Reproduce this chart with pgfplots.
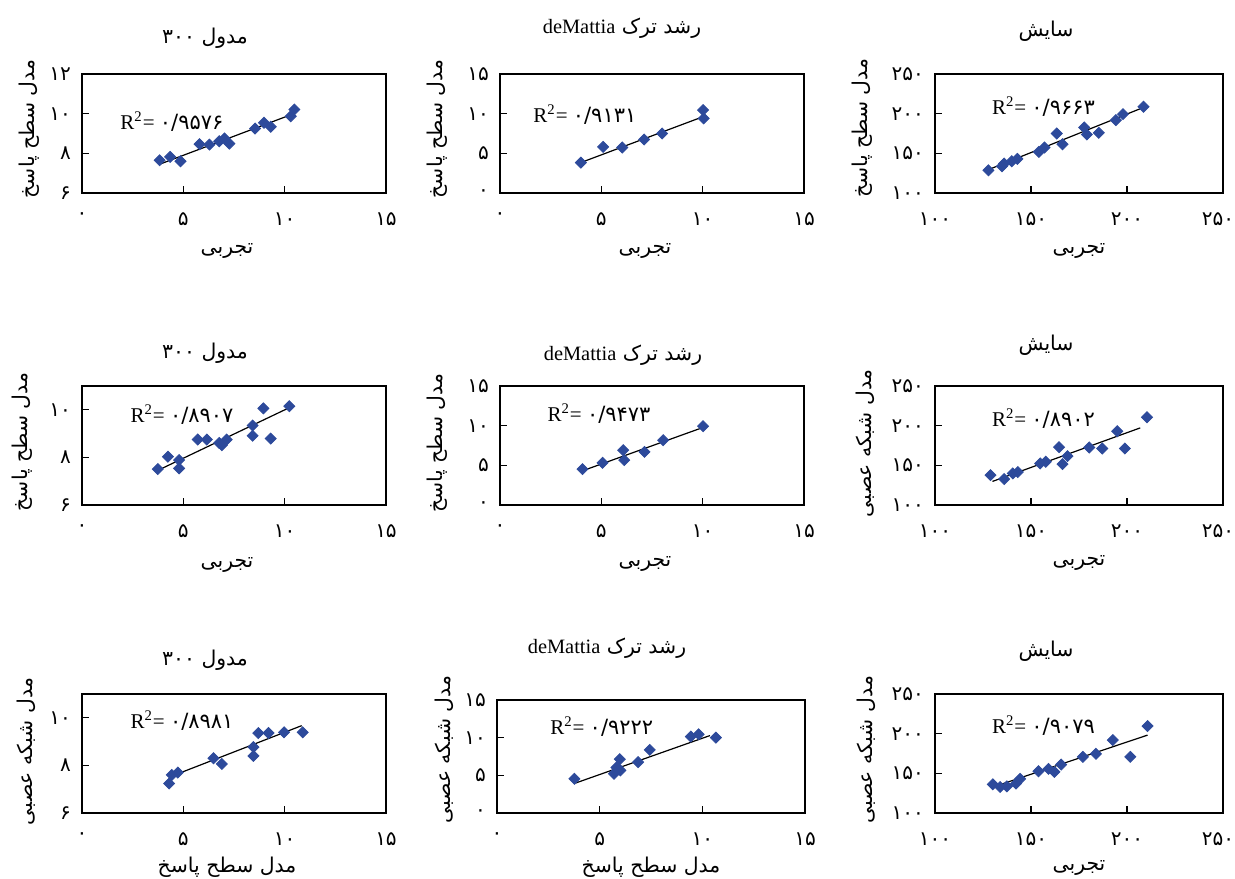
\documentclass[border=0pt]{standalone}
\usepackage{fontspec}
\usepackage{pgfplots}
\pgfplotsset{compat=1.18}
\setmainfont{Liberation Serif}
\newfontfamily\arabicfont[Script=Arabic]{DejaVu Sans}
\TeXXeTstate=1
\definecolor{myblue}{RGB}{45,74,155}
\newcommand\tickfont{\arabicfont\fontsize{10}{11}\selectfont}
\newcommand\labfont{\arabicfont\fontsize{10.2}{12}\selectfont}
\newcommand\rtwo[1]{\fontsize{10.5}{12}\selectfont R\textsuperscript{2}= {\arabicfont\fontsize{10.5}{12}\selectfont #1}}
\pgfplotsset{
  panel/.style={
    scale only axis, anchor=south west,
    axis line style={line width=1.3pt},
    tick pos=left, tick align=inside, major tick length=3.5pt,
    every tick/.style={black, line width=0.6pt},
    ticklabel style={font=\tickfont},
    xticklabel style={yshift=-6.5pt},
    yticklabel style={xshift=-2pt},
    title style={font=\labfont, at={(0.5,1)}, anchor=center},
    xlabel style={font=\labfont, at={(0.5,0)}, anchor=center, yshift=-29pt},
    ylabel style={font=\labfont, anchor=center},
    clip=false,
  },
  small/.style={panel, width=152pt, height=59.5pt, xmin=0, xmax=15,
    xtick={0,5,10,15}, xticklabels={۰,۵,۱۰,۱۵}},
  big/.style={panel, width=144pt, height=59.5pt, xmin=100, xmax=250, ymin=100, ymax=250,
    xtick={100,150,200,250}, xticklabels={۱۰۰,۱۵۰,۲۰۰,\kern-5pt۲۵۰},
    ytick={100,150,200,250}, yticklabels={۱۰۰,۱۵۰,۲۰۰,۲۵۰}},
  yfifteen/.style={ymin=0, ymax=15, ytick={0,5,10,15}, yticklabels={۰,۵,۱۰,۱۵}},
  mk/.style={only marks, mark=square*, mark size=1.95pt, mark options={rotate=45, fill=myblue, draw=myblue}, color=myblue},
  tr/.style={black, line width=0.6pt, no marks},
}
\begin{document}
\begin{tikzpicture}
\path[use as bounding box] (0,0) rectangle (617.5pt,439pt);
% ---------- Row 1 ----------
\begin{axis}[small, at={(41pt,342.5pt)}, ymin=6, ymax=12, ytick={6,8,10,12}, yticklabels={۶,۸,۱۰,۱۲},
  title={\beginR مدول ۳۰۰\endR}, title style={yshift=12pt, xshift=-14.5pt},
  xlabel={تجربی}, xlabel style={xshift=-3.5pt},
  ylabel={\beginR مدل سطح پاسخ\endR}, ylabel style={at={(-0.174,0.538)}}]
\addplot[mk] coordinates {(3.83,7.65) (4.35,7.82) (4.86,7.60) (5.80,8.46) (6.29,8.44) (6.77,8.61) (7.03,8.75) (7.27,8.49) (8.54,9.25) (8.98,9.54) (9.31,9.34) (10.30,9.87) (10.48,10.21)};
\addplot[tr] coordinates {(3.83,7.45) (10.48,10.01)};
\node[anchor=west] at (axis cs:1.55,9.58) {\rtwo{۰/۹۵۷۶}};
\end{axis}
\begin{axis}[small, yfifteen, at={(250pt,342.5pt)},
  title={\beginR رشد ترک {\rmfamily deMattia}\endR}, title style={yshift=17pt, xshift=-15pt},
  xlabel={تجربی}, xlabel style={xshift=-3.5pt},
  ylabel={\beginR مدل سطح پاسخ\endR}, ylabel style={at={(-0.207,0.538)}}]
\addplot[mk] coordinates {(3.99,3.83) (5.09,5.81) (6.03,5.73) (7.11,6.74) (8.0,7.50) (10.02,10.45) (10.05,9.40)};
\addplot[tr] coordinates {(3.95,3.8) (10.0,9.6)};
\node[anchor=west] at (axis cs:1.30,9.83) {\rtwo{۰/۹۱۳۱}};
\end{axis}
\begin{axis}[big, at={(467.5pt,342.5pt)},
  title={سایش}, title style={yshift=15.5pt, xshift=-16.5pt},
  xlabel={تجربی},
  ylabel={\beginR مدل سطح پاسخ\endR}, ylabel style={at={(-0.253,0.546)}}]
\addplot[mk] coordinates {(127.8,128.6) (134.9,133.7) (136.0,137.1) (140.0,140.0) (142.9,143.0) (154.1,151.8) (157.0,157.3) (163.4,175.0) (166.4,161.5) (177.7,182.6) (179.1,173.7) (185.3,175.8) (194.2,191.8) (197.9,199.4) (208.6,208.7)};
\addplot[tr] coordinates {(127,128.6) (208.6,207.9)};
\node[anchor=west] at (axis cs:126,208.4) {\rtwo{۰/۹۶۶۳}};
\end{axis}
% ---------- Row 2 ----------
\begin{axis}[small, at={(41pt,186.5pt)}, ymin=6, ymax=11, ytick={6,8,10}, yticklabels={۶,۸,۱۰},
  title={\beginR مدول ۳۰۰\endR}, title style={yshift=10.5pt, xshift=-14.5pt},
  xlabel={تجربی}, xlabel style={xshift=-3.5pt, yshift=-1pt},
  ylabel={\beginR مدل سطح پاسخ\endR}, ylabel style={at={(-0.197,0.53)}}]
\addplot[mk] coordinates {(3.74,7.51) (4.24,8.03) (4.79,7.89) (4.79,7.54) (5.71,8.75) (6.16,8.75) (6.77,8.61) (6.90,8.51) (7.14,8.75) (8.42,9.34) (8.42,8.91) (8.95,10.06) (9.31,8.79) (10.23,10.15)};
\addplot[tr] coordinates {(3.78,7.47) (10.23,10.09)};
\node[anchor=west] at (axis cs:2.05,9.78) {\rtwo{۰/۸۹۰۷}};
\end{axis}
\begin{axis}[small, yfifteen, at={(250pt,186.5pt)},
  title={\beginR رشد ترک {\rmfamily deMattia}\endR}, title style={yshift=9.5pt, xshift=-14.5pt},
  xlabel={تجربی}, xlabel style={xshift=-3.5pt, yshift=-0.5pt},
  ylabel={\beginR مدل سطح پاسخ\endR}, ylabel style={at={(-0.207,0.52)}}]
\addplot[mk] coordinates {(4.07,4.52) (5.06,5.32) (6.08,6.91) (6.13,5.66) (7.13,6.70) (8.05,8.17) (10.02,9.93)};
\addplot[tr] coordinates {(4.07,4.31) (10.0,9.76)};
\node[anchor=west] at (axis cs:2.0,11.47) {\rtwo{۰/۹۴۷۳}};
\end{axis}
\begin{axis}[big, at={(467.5pt,186.5pt)},
  title={سایش}, title style={yshift=14.5pt, xshift=-16.5pt},
  xlabel={تجربی},
  ylabel={\beginR مدل شبکه عصبی\endR}, ylabel style={at={(-0.243,0.52)}}]
\addplot[mk] coordinates {(128.9,137.7) (136.0,132.7) (140.5,139.8) (143.1,141.5) (154.8,152.4) (157.7,154.5) (164.6,172.9) (166.4,151.5) (169.0,161.6) (180.3,172.5) (187.1,171.2) (194.9,193.0) (198.9,171.2) (210.4,210.6)};
\addplot[tr] coordinates {(129.9,129.7) (206.9,197.2)};
\node[anchor=west] at (axis cs:126,208.4) {\rtwo{۰/۸۹۰۲}};
\end{axis}
% ---------- Row 3 ----------
\begin{axis}[small, at={(41pt,32.5pt)}, ymin=6, ymax=11, ytick={6,8,10}, yticklabels={۶,۸,۱۰},
  title={\beginR مدول ۳۰۰\endR}, title style={yshift=11pt, xshift=-14.5pt},
  xlabel={\beginR مدل سطح پاسخ\endR}, xlabel style={xshift=-3.5pt, yshift=2pt},
  ylabel={\beginR مدل شبکه عصبی\endR}, ylabel style={at={(-0.184,0.52)}}]
\addplot[mk] coordinates {(4.30,7.24) (4.43,7.60) (4.73,7.70) (6.49,8.30) (6.90,8.06) (8.46,8.77) (8.46,8.40) (8.70,9.36) (9.20,9.36) (9.97,9.39) (10.89,9.39)};
\addplot[tr] coordinates {(4.43,7.55) (10.84,9.67)};
\node[anchor=west] at (axis cs:2.05,9.87) {\rtwo{۰/۸۹۸۱}};
\end{axis}
\begin{axis}[small, yfifteen, width=154pt, height=56.5pt, at={(248.5pt,32.5pt)},
  title={\beginR رشد ترک {\rmfamily deMattia}\endR}, title style={yshift=20pt, xshift=-22pt},
  xlabel={\beginR مدل سطح پاسخ\endR}, xlabel style={xshift=0pt, yshift=2pt},
  ylabel={\beginR مدل شبکه عصبی\endR}, ylabel style={at={(-0.172,0.56)}}]
\addplot[mk] coordinates {(3.77,4.54) (5.70,5.21) (5.82,6.04) (5.91,5.82) (6.01,5.65) (5.98,7.15) (6.87,6.75) (7.44,8.38) (9.44,10.15) (9.82,10.45) (10.66,10.01)};
\addplot[tr] coordinates {(3.82,3.97) (10.37,10.28)};
\node[anchor=west] at (axis cs:2.25,11.42) {\rtwo{۰/۹۲۲۲}};
\end{axis}
\begin{axis}[big, at={(467.5pt,32.5pt)},
  title={سایش}, title style={yshift=15.5pt, xshift=-16.5pt},
  xlabel={تجربی}, xlabel style={yshift=1.5pt},
  ylabel={\beginR مدل شبکه عصبی\endR}, ylabel style={at={(-0.24,0.53)}}]
\addplot[mk] coordinates {(130.1,136.2) (133.9,132.8) (137.4,133.6) (142.2,137.1) (144.3,143.0) (153.9,152.7) (159.1,155.6) (162.2,151.8) (165.7,161.1) (177.0,170.8) (183.8,174.6) (192.6,191.9) (201.7,170.8) (210.7,209.6)};
\addplot[tr] coordinates {(130.4,132.9) (210.7,198.2)};
\node[anchor=west] at (axis cs:126,209.6) {\rtwo{۰/۹۰۷۹}};
\end{axis}
\end{tikzpicture}
\end{document}
